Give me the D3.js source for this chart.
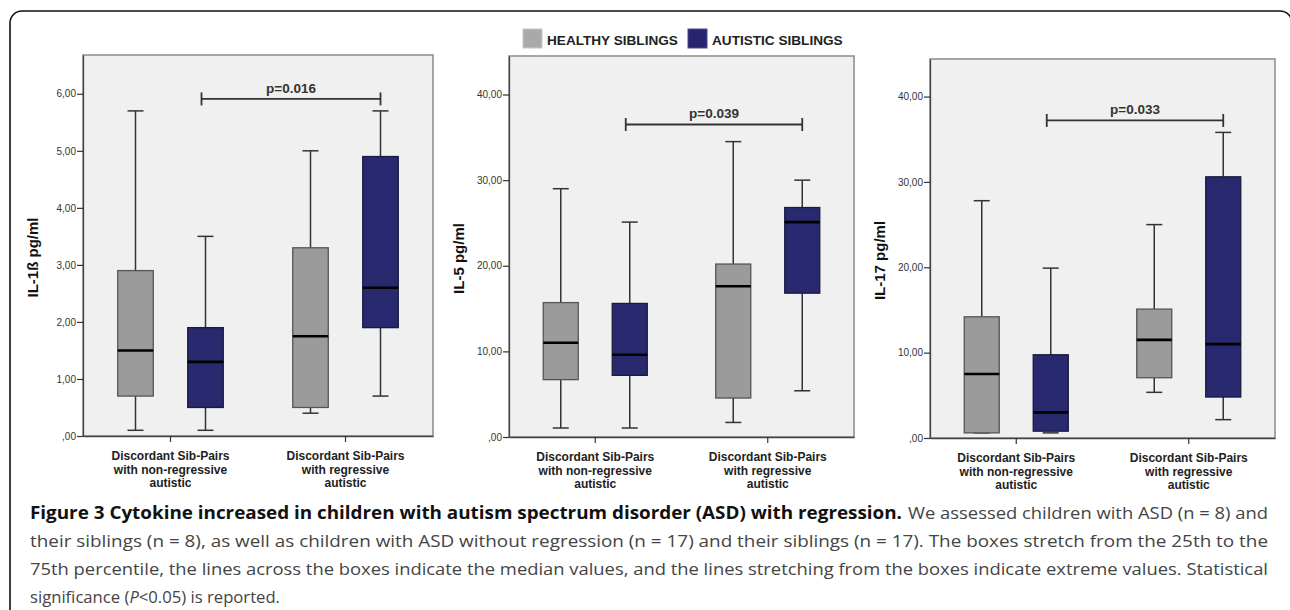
<!DOCTYPE html>
<html><head><meta charset="utf-8">
<script src="https://cdn.jsdelivr.net/npm/d3@7"></script>
<style>body{margin:0;background:#fff} svg{display:block}</style>
</head><body><svg id="c" width="1290" height="610"></svg>
<script>
// ---------- DATA ----------
const categories = ["non-regressive", "regressive"];
const categoryLabels = [["Discordant Sib-Pairs","with non-regressive","autistic"],
                        ["Discordant Sib-Pairs","with regressive","autistic"]];
const series = ["HEALTHY SIBLINGS", "AUTISTIC SIBLINGS"];
const yTitles = ["IL-1ß pg/ml", "IL-5 pg/ml", "IL-17 pg/ml"];
// box stats per category: [min, q1, median, q3, max]
const il1bHealthy  = [[0.1, 0.7, 1.5, 2.9, 5.7], [0.4, 0.5, 1.75, 3.3, 5.0]];
const il1bAutistic = [[0.1, 0.5, 1.3, 1.9, 3.5], [0.7, 1.9, 2.6, 4.9, 5.7]];
const il5Healthy   = [[1.05, 6.7, 11.0, 15.7, 29.0], [1.7, 4.55, 17.6, 20.2, 34.5]];
const il5Autistic  = [[1.05, 7.2, 9.6, 15.6, 25.1], [5.4, 16.8, 25.1, 26.8, 30.0]];
const il17Healthy  = [[0.6, 0.6, 7.5, 14.2, 27.8], [5.35, 7.06, 11.5, 15.1, 25.0]];
const il17Autistic = [[0.6, 0.8, 3.0, 9.75, 19.9], [2.15, 4.8, 11.0, 30.6, 35.8]];
const yMax = [6.68, 44.5, 44.4];
const il1bTicks = [0, 1, 2, 3, 4, 5, 6];
const il5Ticks  = [0, 10, 20, 30, 40];
const il17Ticks = [0, 10, 20, 30, 40];
const pLabels = ["p=0.016", "p=0.039", "p=0.033"];
const pLevels = [5.91, 36.5, 37.2];
const captionBold = "Figure 3 Cytokine increased in children with autism spectrum disorder (ASD) with regression.";
const captionLines = [
  "We assessed children with ASD (n = 8) and",
  "their siblings (n = 8), as well as children with ASD without regression (n = 17) and their siblings (n = 17). The boxes stretch from the 25th to the",
  "75th percentile, the lines across the boxes indicate the median values, and the lines stretching from the boxes indicate extreme values. Statistical"
];

// ---------- DRAW ----------
const svg = d3.select("#c");
const colors = ["#9b9b9b", "#28296f"];
const strokes = ["#555", "#1a1a40"];

// outer frame
svg.append("rect").attr("x", 10).attr("y", 11).attr("width", 1282).attr("height", 700)
  .attr("rx", 12).attr("fill", "none").attr("stroke", "#111").attr("stroke-width", 1.6);

const panels = [
  {l: 83,  r: 433,  t: 55, b: 436, data: [il1bHealthy, il1bAutistic], ticks: il1bTicks},
  {l: 509, r: 854,  t: 56, b: 437, data: [il5Healthy, il5Autistic],   ticks: il5Ticks},
  {l: 930, r: 1275, t: 59, b: 438, data: [il17Healthy, il17Autistic], ticks: il17Ticks}
];
const fmt = d => d === 0 ? ",00" : d3.format(".2f")(d).replace(".", ",");

panels.forEach((p, pi) => {
  const g = svg.append("g");
  const y = d3.scaleLinear().domain([0, yMax[pi]]).range([p.b, p.t]);
  const x = d3.scaleBand().domain(categories).range([p.l, p.r]).padding(0);
  const bw = x.bandwidth();
  const off = bw * 0.2, boxW = bw * 0.203, capW = 16;

  g.append("rect").attr("x", p.l).attr("y", p.t).attr("width", p.r - p.l).attr("height", p.b - p.t)
    .attr("fill", "#f0f0f0").attr("stroke", "#8a8a8a").attr("stroke-width", 1.5);

  const ya = g.append("g").attr("transform", `translate(${p.l},0)`)
    .call(d3.axisLeft(y).tickValues(p.ticks).tickSize(6).tickSizeOuter(0).tickFormat(fmt));
  ya.select(".domain").attr("stroke", "#444").attr("stroke-width", 1.3);
  ya.selectAll(".tick line").attr("stroke", "#333").attr("stroke-width", 1.2);
  ya.selectAll(".tick text").attr("font-family", "Liberation Sans, Arial, sans-serif")
    .attr("font-size", 10).attr("fill", "#333").attr("x", -7);

  const xa = g.append("g").attr("transform", `translate(0,${p.b})`)
    .call(d3.axisBottom(x).tickSize(6).tickSizeOuter(0).tickFormat(""));
  xa.select(".domain").attr("stroke", "#444").attr("stroke-width", 1.3);
  xa.selectAll(".tick line").attr("stroke", "#333").attr("stroke-width", 1.2);

  categories.forEach((c, ci) => {
    const cx0 = x(c) + bw / 2;
    const t = g.append("text").attr("text-anchor", "middle")
      .attr("font-family", "Liberation Sans, Arial, sans-serif").attr("font-weight", "bold")
      .attr("font-size", 12).attr("fill", "#222");
    categoryLabels[ci].forEach((line, li) => {
      t.append("tspan").attr("x", cx0).attr("y", p.b + 24 + li * 13.6).text(line);
    });
    p.data.forEach((sd, si) => {
      const [mn, q1, md, q3, mx] = sd[ci];
      const cx = cx0 + (si === 0 ? -off : off);
      const ln = (x1, y1, x2, y2, w, col) => g.append("line").attr("x1", x1).attr("y1", y1)
        .attr("x2", x2).attr("y2", y2).attr("stroke", col || "#333").attr("stroke-width", w || 1.5);
      ln(cx, y(mx), cx, y(q3));
      ln(cx, y(q1), cx, y(mn));
      ln(cx - capW / 2, y(mx), cx + capW / 2, y(mx));
      ln(cx - capW / 2, y(mn), cx + capW / 2, y(mn));
      g.append("rect").attr("x", cx - boxW / 2).attr("y", y(q3)).attr("width", boxW)
        .attr("height", Math.max(0.5, y(q1) - y(q3)))
        .attr("fill", colors[si]).attr("stroke", strokes[si]).attr("stroke-width", 1.3);
      ln(cx - boxW / 2, y(md), cx + boxW / 2, y(md), 2.6, "#000");
    });
  });

  // significance bar between autistic boxes
  const xl = x(categories[0]) + bw / 2 + off - 4;
  const xr = x(categories[1]) + bw / 2 + off;
  const yl = y(pLevels[pi]);
  const sl = (x1, y1, x2, y2) => g.append("line").attr("x1", x1).attr("y1", y1).attr("x2", x2).attr("y2", y2)
    .attr("stroke", "#333").attr("stroke-width", 1.8);
  sl(xl, yl, xr, yl);
  sl(xl, yl - 6.5, xl, yl + 6.5);
  sl(xr, yl - 6.5, xr, yl + 6.5);
  g.append("text").attr("x", (xl + xr) / 2).attr("y", yl - 6).attr("text-anchor", "middle")
    .attr("font-family", "Liberation Sans, Arial, sans-serif").attr("font-weight", "bold")
    .attr("font-size", 13.5).attr("fill", "#333").text(pLabels[pi]);

  // y title
  g.append("text").attr("transform", `translate(${p.l - 45},${(p.t + p.b) / 2 + 12}) rotate(-90)`)
    .attr("text-anchor", "middle").attr("font-family", "Liberation Sans, Arial, sans-serif")
    .attr("font-weight", "bold").attr("font-size", 15).attr("fill", "#111").text(yTitles[pi]);
});

// legend
const legX = [523, 688];
series.forEach((s, i) => {
  svg.append("rect").attr("x", legX[i]).attr("y", 29).attr("width", 19).attr("height", 19)
    .attr("fill", i === 0 ? "#a9a9a9" : "#28246e").attr("stroke", i === 0 ? "#c8c8c8" : "#4a4a8a").attr("stroke-width", 1);
  svg.append("text").attr("x", legX[i] + 24).attr("y", 44.5)
    .attr("font-family", "Liberation Sans, Arial, sans-serif").attr("font-weight", "bold")
    .attr("font-size", 13.6).attr("fill", "#222").text(s);
});

// caption
const capFont = "Open Sans, Noto Sans, sans-serif";
svg.append("text").attr("x", 30).attr("y", 519).attr("font-family", capFont).attr("font-weight", "bold")
  .attr("font-size", 17.5).attr("fill", "#111").attr("textLength", 872).attr("lengthAdjust", "spacingAndGlyphs")
  .text(captionBold);
svg.append("text").attr("x", 908).attr("y", 519).attr("font-family", capFont)
  .attr("font-size", 17).attr("fill", "#444").attr("textLength", 360).attr("lengthAdjust", "spacingAndGlyphs")
  .text(captionLines[0]);
[captionLines[1], captionLines[2]].forEach((ln, i) => {
  svg.append("text").attr("x", 30).attr("y", 547 + i * 28).attr("font-family", capFont)
    .attr("font-size", 17).attr("fill", "#444").attr("textLength", 1238).attr("lengthAdjust", "spacingAndGlyphs")
    .text(ln);
});
const last = svg.append("text").attr("x", 30).attr("y", 603).attr("font-family", capFont)
  .attr("font-size", 17).attr("fill", "#444").attr("textLength", 250).attr("lengthAdjust", "spacingAndGlyphs");
last.append("tspan").text("significance (");
last.append("tspan").attr("font-style", "italic").text("P");
last.append("tspan").text("<0.05) is reported.");
</script></body></html>
